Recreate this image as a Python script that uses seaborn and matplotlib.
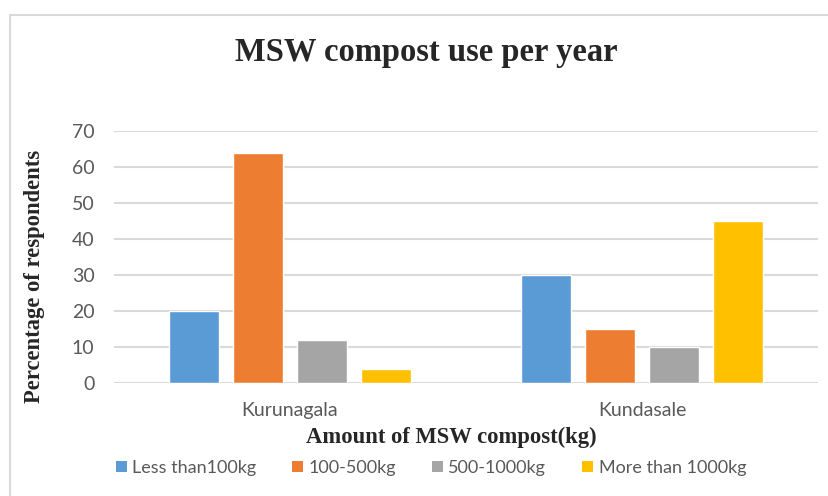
import matplotlib
matplotlib.use("Agg")
import matplotlib.pyplot as plt
import seaborn as sns
import pandas as pd
from matplotlib.patches import Rectangle, Patch

locations = ["Kurunagala", "Kundasale"]
groups = ["Less than100kg", "100-500kg", "500-1000kg", "More than 1000kg"]
kurunagala = [20, 64, 12, 4]
kundasale = [30, 15, 10, 45]
colors = ["#5B9BD5", "#ED7D31", "#A5A5A5", "#FFC000"]
yticks = [0, 10, 20, 30, 40, 50, 60, 70]

rows = []
for loc, vals in zip(locations, [kurunagala, kundasale]):
    for g, v in zip(groups, vals):
        rows.append({"loc": loc, "group": g, "value": v})
df = pd.DataFrame(rows)

sns.set_theme(style="white")
fig = plt.figure(figsize=(8.29, 4.96), dpi=100)
ax = fig.add_axes([114/829, 1-383/496, (818-114)/829, (383-131)/496])

sns.barplot(data=df, x="loc", y="value", hue="group", hue_order=groups,
            palette=colors, width=0.727, gap=0.22, saturation=1,
            ax=ax, legend=False)

ax.set_ylim(0, 70)
ax.set_xlim(-0.5, 1.5)
ax.set_yticks(yticks)
ax.yaxis.grid(True, color="#D9D9D9", linewidth=1.5)
ax.set_axisbelow(True)
for s in ax.spines.values():
    s.set_visible(False)
ax.tick_params(axis="both", length=0, labelsize=14, labelcolor="#595959")
for lab in ax.get_yticklabels() + ax.get_xticklabels():
    lab.set_fontfamily("Lato")
ax.tick_params(axis="y", pad=14)
ax.tick_params(axis="x", pad=14)
ax.set_xlabel("")
ax.set_ylabel("")

serif = "Liberation Serif"
fig.text(426/829, 1-52/496, "MSW compost use per year", ha="center", va="center",
         fontsize=23.5, fontweight="bold", family=serif)
fig.text(35/829, 1-276/496, "Percentage of respondents", ha="center", va="center",
         rotation=90, fontsize=16.3, fontweight="bold", family=serif)
fig.text(451/829, 1-437/496, "Amount of MSW compost(kg)", ha="center", va="center",
         fontsize=16.3, fontweight="bold", family=serif)

handles = [Patch(facecolor=c, edgecolor="none") for c in colors]
leg = fig.legend(handles, groups, loc="center", bbox_to_anchor=(431/829, 1-468/496),
                 ncol=4, frameon=False, handlelength=0.6, handleheight=0.6,
                 handletextpad=0.3, columnspacing=2.0,
                 prop={"family": "Lato", "size": 13})
for t in leg.get_texts():
    t.set_color("#595959")

fig.patches.append(Rectangle((10/829, -0.1), 1.2, 1-15/496 + 0.1,
                             transform=fig.transFigure, fill=False,
                             edgecolor="#D9D9D9", linewidth=1.5, zorder=0))

fig.savefig("out.png", dpi=100)
